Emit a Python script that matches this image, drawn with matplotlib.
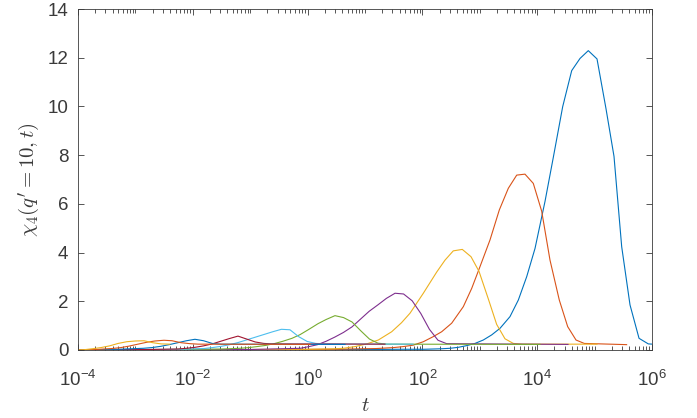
import numpy as np
import matplotlib
matplotlib.use("Agg")
import matplotlib.pyplot as plt
from matplotlib.ticker import NullFormatter

plt.rcParams["font.family"] = ["Liberation Sans", "DejaVu Sans"]
plt.rcParams["mathtext.fontset"] = "cm"
plt.rcParams["axes.unicode_minus"] = False

# chi_4(q'=10, t) curves, log10(t) and value
logt_1 = [-4.0, -2.0, 0.0, 1.0, 1.6, 2.03, 2.18, 2.33, 2.481, 2.625, 2.772, 2.916, 3.061,
          3.207, 3.352, 3.526, 3.671, 3.817, 3.962, 4.136, 4.28, 4.444, 4.601, 4.746, 4.89,
          5.042, 5.199, 5.338, 5.472, 5.617, 5.774, 5.936, 6.09]
chi4_1 = [0.01, 0.01, 0.02, 0.02, 0.03, 0.03, 0.04, 0.05, 0.07, 0.11, 0.18, 0.27, 0.41,
          0.62, 0.89, 1.37, 2.05, 3.01, 4.17, 6.1, 7.9, 9.99, 11.47, 11.97, 12.29,
          11.95, 9.9, 7.95, 4.24, 1.85, 0.48, 0.25, 0.23]

logt_2 = [-4.0, -1.0, 0.5, 1.2, 1.5, 1.668, 1.842, 2.016, 2.19, 2.336, 2.51, 2.713, 2.859,
          3.003, 3.178, 3.34, 3.497, 3.643, 3.787, 3.932, 4.078, 4.223, 4.385, 4.531,
          4.676, 4.82, 5.558]
chi4_2 = [0.0, 0.01, 0.03, 0.06, 0.1, 0.14, 0.2, 0.34, 0.55, 0.75, 1.1, 1.78, 2.53,
          3.42, 4.52, 5.75, 6.64, 7.18, 7.22, 6.84, 5.7, 3.69, 2.05, 0.96,
          0.41, 0.27, 0.22]

logt_3 = [-4.0, -2.0, 0.0, 0.47, 0.622, 0.826, 1.03, 1.232, 1.465, 1.636, 1.784, 2.016,
          2.249, 2.394, 2.538, 2.695, 2.847, 2.986, 3.148, 3.294, 3.439, 3.584, 3.735, 5.042]
chi4_3 = [0.0, 0.01, 0.03, 0.05, 0.07, 0.14, 0.25, 0.41, 0.75, 1.12, 1.51, 2.33,
          3.2, 3.69, 4.07, 4.13, 3.83, 3.23, 2.1, 1.05, 0.46, 0.27, 0.24, 0.24]

logt_4 = [-4.0, -1.0, -0.125, 0.024, 0.174, 0.324, 0.474, 0.624, 0.774, 0.923, 1.073,
          1.223, 1.373, 1.523, 1.672, 1.822, 1.972, 2.122, 2.272, 2.422, 4.537]
chi4_4 = [0.0, 0.02, 0.07, 0.14, 0.22, 0.36, 0.53, 0.72, 0.95, 1.27, 1.59,
          1.85, 2.12, 2.33, 2.30, 2.02, 1.5, 0.85, 0.4, 0.26, 0.23]

logt_5 = [-4.0, -2.5, -1.5, -1.178, -1.021, -0.882, -0.725, -0.568, -0.429, -0.272, -0.132,
          0.024, 0.181, 0.321, 0.477, 0.627, 0.774, 0.93, 1.077, 1.226, 1.376, 4.049]
chi4_5 = [0.0, 0.02, 0.04, 0.07, 0.1, 0.14, 0.19, 0.27, 0.36, 0.48, 0.63,
          0.85, 1.08, 1.25, 1.41, 1.33, 1.15, 0.78, 0.45, 0.28, 0.24, 0.23]

logt_6 = [-4.0, -2.2, -1.805, -1.655, -1.505, -1.355, -1.206, -1.056, -0.906, -0.756,
          -0.606, -0.456, -0.307, -0.157, -0.007, 0.143, 0.293, 1.836]
chi4_6 = [0.0, 0.03, 0.06, 0.1, 0.15, 0.22, 0.31, 0.42, 0.53, 0.64,
          0.75, 0.85, 0.83, 0.55, 0.35, 0.27, 0.25, 0.24]

logt_7 = [-4.0, -2.8, -2.261, -2.111, -1.962, -1.812, -1.662, -1.512, -1.362, -1.213,
          -1.063, -0.913, -0.763, -0.613, 1.348]
chi4_7 = [0.0, 0.02, 0.04, 0.07, 0.11, 0.17, 0.25, 0.36, 0.47, 0.57,
          0.45, 0.33, 0.27, 0.25, 0.24]

logt_8 = [-4.0, -3.3, -2.861, -2.711, -2.561, -2.411, -2.261, -2.111, -1.962, -1.812,
          -1.662, -1.512, 0.652]
chi4_8 = [0.0, 0.03, 0.07, 0.1, 0.15, 0.22, 0.3, 0.38, 0.44, 0.38,
          0.27, 0.24, 0.23]

logt_9 = [-4.0, -3.7, -3.408, -3.251, -3.111, -2.955, -2.798, -2.659, -2.502, -2.362,
          -2.206, -2.049, -1.909, 0.042]
chi4_9 = [0.0, 0.02, 0.06, 0.1, 0.16, 0.24, 0.32, 0.37, 0.4, 0.38,
          0.3, 0.26, 0.24, 0.23]

logt_10 = [-4.05, -3.901, -3.751, -3.599, -3.449, -3.3, -3.15, -3.0, -2.85, -2.7,
           -2.55, -2.401]
chi4_10 = [0.0, 0.01, 0.05, 0.1, 0.17, 0.27, 0.34, 0.37, 0.38, 0.3,
           0.25, 0.24]

curves = [(logt_1, chi4_1), (logt_2, chi4_2), (logt_3, chi4_3), (logt_4, chi4_4),
          (logt_5, chi4_5), (logt_6, chi4_6), (logt_7, chi4_7), (logt_8, chi4_8),
          (logt_9, chi4_9), (logt_10, chi4_10)]

# MATLAB default colour order
colors = ["#0072BD", "#D95319", "#EDB120", "#7E2F8E", "#77AC30", "#4DBEEE", "#A2142F"]

xtick_vals = [1e-4, 1e-2, 1e0, 1e2, 1e4, 1e6]
xtick_labels = [r"$\mathdefault{10^{-4}}$", r"$\mathdefault{10^{-2}}$", r"$\mathdefault{10^{0}}$",
                r"$\mathdefault{10^{2}}$", r"$\mathdefault{10^{4}}$", r"$\mathdefault{10^{6}}$"]
ytick_vals = [0, 2, 4, 6, 8, 10, 12, 14]

axcol = "#3a3a3a"

fig = plt.figure(figsize=(6.97, 4.18), dpi=100)
ax = fig.add_axes([78 / 697, 68 / 418, 574 / 697, 341 / 418])

for i, (lt, chi) in enumerate(curves):
    ax.plot(10 ** np.array(lt), chi, color=colors[i % len(colors)], lw=0.8)

ax.set_xscale("log")
ax.set_xlim(1e-4, 1e6)
ax.set_ylim(0, 14)

ax.set_xticks(xtick_vals)
ax.set_xticklabels(xtick_labels)
minor = [m * 10.0 ** k for k in range(-4, 6) for m in range(1, 10)
         if not (m == 1 and k % 2 == 0)]
ax.set_xticks(minor, minor=True)
ax.xaxis.set_minor_formatter(NullFormatter())
ax.set_yticks(ytick_vals)
ax.set_yticklabels([str(v) for v in ytick_vals])

ax.tick_params(which="both", direction="in", top=True, right=True,
               colors=axcol, labelsize=13.5, width=0.6)
ax.tick_params(which="major", length=4.2)
ax.tick_params(which="minor", length=2.6)
ax.tick_params(axis="x", which="major", pad=14)
ax.tick_params(axis="y", which="major", pad=7)
for s in ax.spines.values():
    s.set_color(axcol)
    s.set_linewidth(0.6)

ax.set_xlabel(r"$t$", fontsize=15, color=axcol, labelpad=5)
ax.set_ylabel(r"$\chi_4(q'=10,t)$", fontsize=15, color=axcol, labelpad=4)

fig.savefig("out.png", dpi=100)
plt.close(fig)
